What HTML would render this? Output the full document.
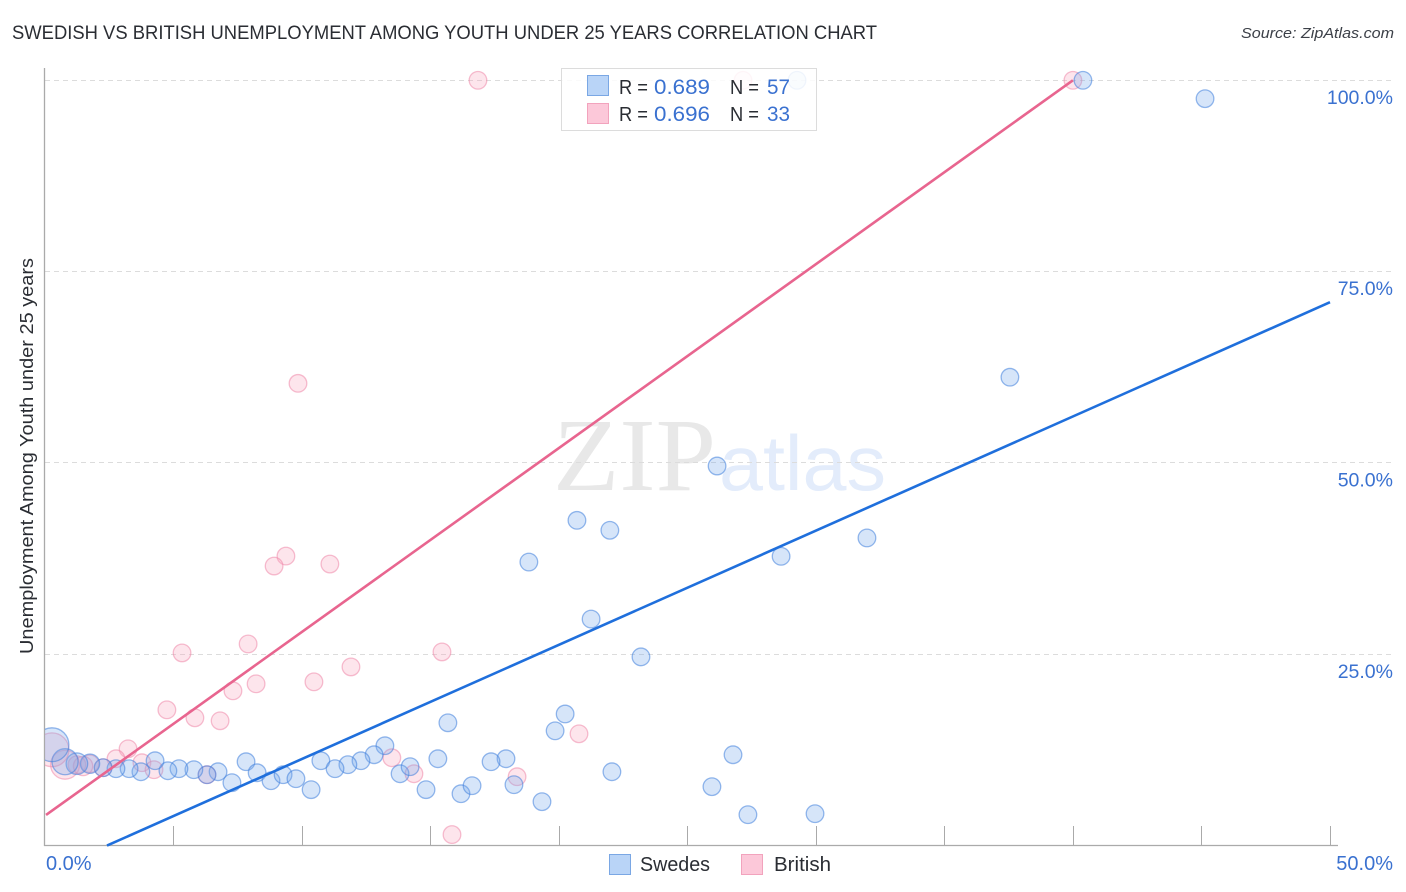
<!DOCTYPE html>
<html lang="en">
<head>
<meta charset="utf-8">
<title>Swedish vs British Unemployment Among Youth Under 25 Years Correlation Chart</title>
<style>
html,body{margin:0;padding:0;background:#fff;}
svg{display:block;font-family:"Liberation Sans",sans-serif;}
</style>
</head>
<body>
<svg id="chart" width="1406" height="892" viewBox="0 0 1406 892" xmlns="http://www.w3.org/2000/svg">
  <defs>
    <clipPath id="plot-clip"><rect x="45" y="60" width="1361" height="786"/></clipPath>
  </defs>
  <rect x="0" y="0" width="1406" height="892" fill="#fff"/>
  <text x="12" y="39" font-size="19" fill="#2a2d33" textLength="865" lengthAdjust="spacingAndGlyphs">SWEDISH VS BRITISH UNEMPLOYMENT AMONG YOUTH UNDER 25 YEARS CORRELATION CHART</text>
  <text x="1394" y="38" font-size="15" font-style="italic" fill="#3c4048" text-anchor="end" textLength="153" lengthAdjust="spacingAndGlyphs">Source: ZipAtlas.com</text>
  <text x="553" y="490" font-size="104" fill="#e8e8e8" font-family="'Liberation Serif',serif" textLength="163" lengthAdjust="spacingAndGlyphs">ZIP</text>
  <text x="719" y="490" font-size="78" fill="#e3ecfb" textLength="167" lengthAdjust="spacingAndGlyphs">atlas</text>
  <g id="grid"></g>
  <g id="axes"></g>
  <g id="labels"></g>
  <g id="points" clip-path="url(#plot-clip)"></g>
  <g id="lines"></g>
  <text transform="translate(33,456) rotate(-90)" font-size="18.5" fill="#2a2d33" text-anchor="middle" textLength="396" lengthAdjust="spacingAndGlyphs">Unemployment Among Youth under 25 years</text>

  <g>
    <rect x="561.5" y="68.5" width="255" height="62" fill="#fff" fill-opacity="0.86" stroke="#dcdcdc" stroke-width="1"/>
    <rect x="587.5" y="75.5" width="21" height="20" fill="#b9d4f7" stroke="#7aa7e4"/>
    <rect x="587.5" y="103.5" width="21" height="20" fill="#fcc8d9" stroke="#f2a3bd"/>
    <text x="619" y="94" font-size="20" fill="#2a2d33" textLength="29" lengthAdjust="spacingAndGlyphs">R =</text>
    <text x="654" y="94" font-size="21.5" fill="#3a71d0" textLength="56" lengthAdjust="spacingAndGlyphs">0.689</text>
    <text x="730" y="94" font-size="20" fill="#2a2d33" textLength="29" lengthAdjust="spacingAndGlyphs">N =</text>
    <text x="767" y="94" font-size="21.5" fill="#3a71d0" textLength="23" lengthAdjust="spacingAndGlyphs">57</text>
    <text x="619" y="121" font-size="20" fill="#2a2d33" textLength="29" lengthAdjust="spacingAndGlyphs">R =</text>
    <text x="654" y="121" font-size="21.5" fill="#3a71d0" textLength="56" lengthAdjust="spacingAndGlyphs">0.696</text>
    <text x="730" y="121" font-size="20" fill="#2a2d33" textLength="29" lengthAdjust="spacingAndGlyphs">N =</text>
    <text x="767" y="121" font-size="21.5" fill="#3a71d0" textLength="23" lengthAdjust="spacingAndGlyphs">33</text>
  </g>

  <g>
    <rect x="609.5" y="854.5" width="21" height="20" fill="#b9d4f7" stroke="#7aa7e4"/>
    <text x="640" y="871" font-size="20" fill="#2a2d33" textLength="70" lengthAdjust="spacingAndGlyphs">Swedes</text>
    <rect x="741.5" y="854.5" width="21" height="20" fill="#fcc8d9" stroke="#f2a3bd"/>
    <text x="774" y="871" font-size="20" fill="#2a2d33" textLength="57" lengthAdjust="spacingAndGlyphs">British</text>
  </g>
</svg>
<script>
const xTickValues = [0,5,10,15,20,25,30,35,40,45,50];
const xTickLabels = ["0.0%","50.0%"];
const yTickValues = [25,50,75,100];
const yTickLabels = ["25.0%","50.0%","75.0%","100.0%"];

const swedesX = [29.27,40.39,45.14,37.55,26.16,31.99,28.65,20.71,21.99,18.84,21.26,23.2,20.25,19.86,15.69,26.78,13.24,15.3,17.95,17.37,12.82,12.31,11.8,10.75,11.3,7.84,8.27,8.81,9.28,9.78,10.37,7.29,6.75,6.32,5.81,5.23,4.8,4.3,3.75,3.29,2.78,2.28,1.77,1.26,0.8,0.29,13.83,14.22,14.84,16.2,16.63,18.26,22.07,19.35,25.96,27.36,29.97];
const swedesY = [100,100,97.6,61.2,49.6,40.2,37.8,42.5,41.2,37.05,29.6,24.66,17.2,15,16.05,11.87,13.05,11.35,11.35,10.96,11.87,11.09,10.57,11.09,10.05,10.96,9.52,8.48,9.26,8.74,7.31,8.22,9.65,9.26,9.92,10.05,9.78,11.09,9.65,10.05,10.05,10.18,10.7,10.7,10.96,13.18,9.39,10.31,7.31,6.78,7.83,7.96,9.65,5.74,7.7,4.04,4.17];
const swedesWeight = [1,1,1,1,1,1,1,1,1,1,1,1,1,1,1,1,1,1,1,1,1,1,1,1,1,1,1,1,1,1,1,1,1,1,1,1,1,1,1,1,1,1,1.2,1.5,2.2,3.7,1,1,1,1,1,1,1,1,1,1,1];

const britishX = [16.86,27.17,40,9.86,9.39,8.93,11.1,7.92,5.35,15.46,11.92,10.48,8.23,7.33,4.76,5.85,6.83,20.79,3.25,13.51,2.78,3.79,4.26,2.28,6.32,14.37,18.38,15.85,1.77,1.26,0.8,0.29,1.5];
const britishY = [100,100,100,60.4,37.83,36.53,36.79,26.35,25.18,25.31,23.35,21.4,21.14,20.22,17.74,16.7,16.31,14.61,12.65,11.48,11.35,10.83,9.92,10.18,9.26,9.39,9,1.44,10.7,10.57,10.57,12.52,10.4];
const britishWeight = [1,1,1,1,1,1,1,1,1,1,1,1,1,1,1,1,1,1,1,1,1,1,1,1,1,1,1,1,1,1,2.7,3.7,1.2];

const swedesTrendX = [2.43,50];
const swedesTrendY = [0,71];
const britishTrendX = [0.06,40];
const britishTrendY = [4,100];

const NS = 'http://www.w3.org/2000/svg';
const xScale = v => 44.5 + v * 25.71;
const yScale = v => 845.6 - v * 7.653;
const rScale = w => 8.8 * Math.sqrt(w);

function make(tag, parent, attrs, text) {
  const el = document.createElementNS(NS, tag);
  for (const k in attrs) el.setAttribute(k, attrs[k]);
  if (text !== undefined) el.textContent = text;
  document.getElementById(parent).appendChild(el);
  return el;
}

yTickValues.forEach(v => {
  const y = Math.floor(yScale(v)) + 0.5;
  const g = make('line', 'grid', {x1:45, x2:1393, y1:y, y2:y, stroke:'#dcdcdc', 'stroke-width':1, 'stroke-dasharray':'5 4'});
  
  
});

const yAxisLine = make('line', 'axes', {x1:44.5, x2:44.5, y1:68, y2:846, stroke:'#aaaaaa', 'stroke-width':1.3});


const xAxisLine = make('line', 'axes', {x1:44, x2:1338, y1:845.5, y2:845.5, stroke:'#aaaaaa', 'stroke-width':1.3});



xTickValues.slice(1).forEach(v => {
  const x = Math.round(xScale(v)) + 0.5;
  const t = make('line', 'axes', {x1:x, x2:x, y1:826, y2:846, stroke:'#aaaaaa', 'stroke-width':1});
  
  
});

yTickValues.forEach((v, i) => {
  const t = make('text', 'labels', {x:1393, y:yScale(v) + 23.6, 'font-size':19.5, fill:'#3a71d0', 'text-anchor':'end'}, yTickLabels[i]);
  
  
});
const xLabelStart = make('text', 'labels', {x:46, y:870, 'font-size':20, fill:'#3a71d0'}, xTickLabels[0]);


const xLabelEnd = make('text', 'labels', {x:1393, y:870, 'font-size':20, fill:'#3a71d0', 'text-anchor':'end'}, xTickLabels[1]);



britishX.forEach((v, i) => {
  const c = make('circle', 'points', {cx:xScale(v), cy:yScale(britishY[i]), r:rScale(britishWeight[i]), fill:'#f7a9c1', 'fill-opacity':0.3, stroke:'#ef88aa', 'stroke-opacity':0.55, 'stroke-width':1.3});
  
  
});
swedesX.forEach((v, i) => {
  const c = make('circle', 'points', {cx:xScale(v), cy:yScale(swedesY[i]), r:rScale(swedesWeight[i]), fill:'#78aaeb', 'fill-opacity':0.3, stroke:'#3f80dc', 'stroke-opacity':0.55, 'stroke-width':1.3});
  
  
});

const swedesTrend = make('line', 'lines', {x1:xScale(swedesTrendX[0]), y1:yScale(swedesTrendY[0]), x2:xScale(swedesTrendX[1]), y2:yScale(swedesTrendY[1]), stroke:'#1f6fdc', 'stroke-width':2.6});


const britishTrend = make('line', 'lines', {x1:xScale(britishTrendX[0]), y1:yScale(britishTrendY[0]), x2:xScale(britishTrendX[1]), y2:yScale(britishTrendY[1]), stroke:'#e8658f', 'stroke-width':2.6});


</script>
</body>
</html>
